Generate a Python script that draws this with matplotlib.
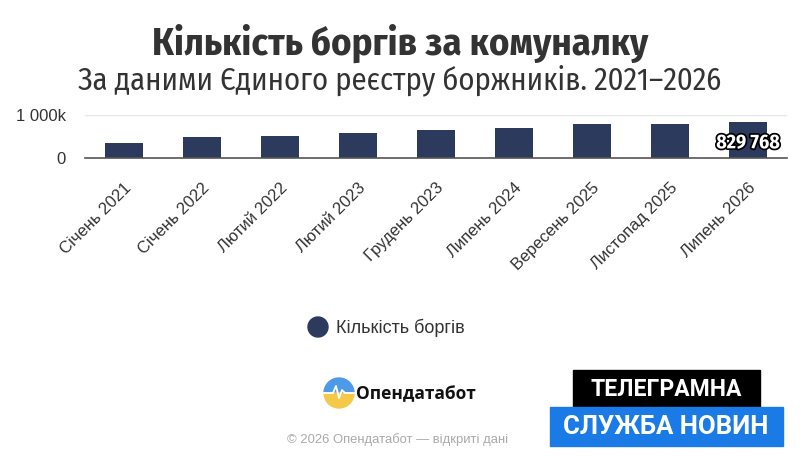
import matplotlib
matplotlib.use("Agg")
import matplotlib.pyplot as plt
import matplotlib.patheffects as pe
from matplotlib.patches import Rectangle, Circle, Wedge
from matplotlib import font_manager
from matplotlib.ft2font import FT2Font
import numpy as np

categories = ["Січень 2021", "Січень 2022", "Лютий 2022", "Лютий 2023", "Грудень 2023",
              "Липень 2024", "Вересень 2025", "Листопад 2025", "Липень 2026"]
values = [357000, 481000, 504000, 574000, 659000, 690000, 791000, 791000, 829768]
y_ticks = [0, 1000000]
y_tick_labels = ["0", "1 000k"]
series_name = "Кількість боргів"
title = "Кількість боргів за комуналку"
subtitle = "За даними Єдиного реєстру боржників. 2021–2026"

W, H = 800, 466
fig = plt.figure(figsize=(W / 100, H / 100), dpi=100)
fig.patch.set_facecolor("white")

need = set(title + subtitle) - {" "}
NARROW = None
for f in font_manager.fontManager.ttflist:
    if "Narrow" in f.name or "Condensed" in f.name:
        try:
            cmap = FT2Font(f.fname).get_charmap()
        except Exception:
            continue
        if all(ord(c) in cmap for c in need):
            NARROW = f.name
            break
FAM = [NARROW, "Liberation Sans"] if NARROW else ["Liberation Sans"]

def fx(x):
    return x / W

def fy(y):
    return 1 - y / H

BAR = "#2c3b5d"
TXT = "#333333"

ax = fig.add_axes([fx(85), fy(158), fx(787) - fx(85), fy(115) - fy(158)])
x = np.arange(len(categories))
ax.bar(x, values, width=0.49, color=BAR, zorder=3)
ax.set_xlim(-0.5, len(categories) - 0.5)
ax.set_ylim(0, 1000000)
ax.set_yticks(y_ticks)
ax.set_yticklabels(y_tick_labels, fontsize=12, color=TXT, family="Liberation Sans")
ax.grid(axis="y", color="#e6e6e6", linewidth=1, zorder=0)
for s in ["top", "right", "left"]:
    ax.spines[s].set_visible(False)
ax.spines["bottom"].set_color("#555555")
ax.spines["bottom"].set_linewidth(1.2)
ax.spines["bottom"].set_zorder(4)
ax.tick_params(axis="y", length=0, pad=14)
ax.tick_params(axis="x", length=0, pad=16)
ax.set_xticks(x)
ax.set_xticklabels(categories, rotation=45, ha="right", va="top", rotation_mode="anchor",
                   fontsize=12, color=TXT, family="Liberation Sans")

renderer = fig.canvas.get_renderer()

def fitted(t, target_w, size):
    t.set_fontsize(size)
    w = t.get_window_extent(renderer).width
    t.set_fontsize(size * target_w / w)
    return t

# data label on last bar
last = len(values) - 1
lab = f"{values[last]:,}".replace(",", " ")
t0 = ax.text(x[last], values[last] * 0.43, lab, ha="center", va="center",
             fontweight="bold", color="white", family=FAM, zorder=5,
             path_effects=[pe.withStroke(linewidth=2.5, foreground="black")])
fitted(t0, 64, 11)

# titles
t1 = fig.text(0.5, fy(43), title, ha="center", va="center", fontweight="bold",
              color=TXT, family=FAM)
fitted(t1, 496, 24)
t2 = fig.text(0.5, fy(80), subtitle, ha="center", va="center",
              color=TXT, family=FAM)
fitted(t2, 642, 20)

# legend
lax = fig.add_axes([0, 0, 1, 1], facecolor="none")
lax.set_xlim(0, W)
lax.set_ylim(H, 0)
lax.axis("off")
lax.add_patch(Circle((318, 327), 10, color=BAR))
lax.text(336, 328, series_name, ha="left", va="center", fontsize=13, color=TXT,
         family="Liberation Sans")

# logo
cx, cy, r = 339, 393, 15
lax.add_patch(Wedge((cx, cy), r, 180, 360, color="#4d9be6"))
lax.add_patch(Wedge((cx, cy), r, 0, 180, color="#f4c94a"))
px = [cx - r, cx - 6, cx - 3, cx, cx + 3, cx + 6, cx + r]
py = [cy, cy, cy - 7, cy + 5, cy - 3, cy, cy]
lax.plot(px, py, color="white", linewidth=1.3)
lax.text(356, 394, "Опендатабот", ha="left", va="center", fontsize=12.5, fontweight="bold",
         color="#111111", family="Open Sans")
lax.text(398, 440, "© 2026 Опендатабот — відкриті дані", ha="center", va="center",
         fontsize=9.4, color="#aaaaaa", family="Liberation Sans")

# badge
lax.add_patch(Rectangle((573, 370), 187, 37, color="black"))
lax.add_patch(Rectangle((550, 407), 233, 39, color="#1a7be6"))
lax.text(666, 389, "ТЕЛЕГРАМНА", ha="center", va="center", fontsize=16.5, fontweight="bold",
         color="white", family="Roboto")
lax.text(666, 427, "СЛУЖБА НОВИН", ha="center", va="center", fontsize=18.5, fontweight="bold",
         color="white", family="Roboto")

fig.savefig("out.png", dpi=100)
